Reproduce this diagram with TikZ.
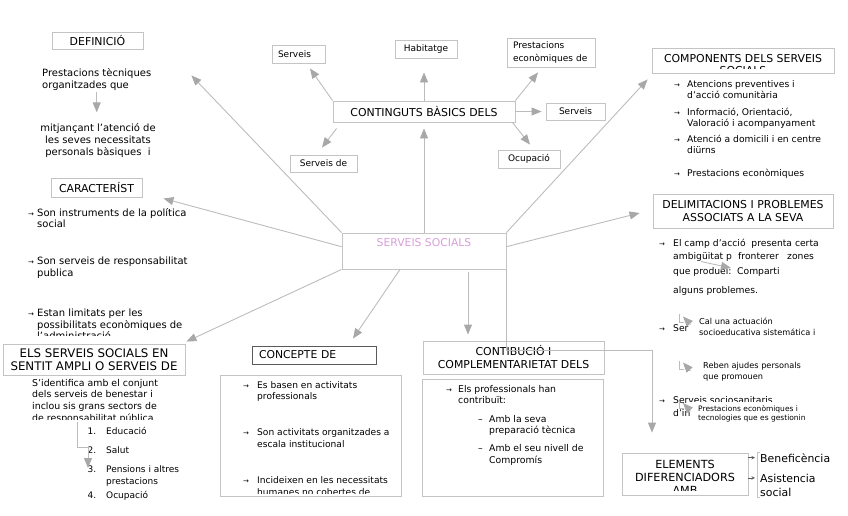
\documentclass[tikz,border=0pt]{standalone}
\usepackage{fontspec}
\setmainfont{DejaVu Sans}
\usetikzlibrary{arrows.meta}

\definecolor{framegray}{RGB}{196,196,196}
\definecolor{linkgray}{RGB}{188,188,188}
\definecolor{tipgray}{RGB}{168,168,168}
\definecolor{framedark}{RGB}{90,90,90}
\definecolor{socialpink}{RGB}{216,158,216}

\newcommand{\setfs}[2]{\fontsize{#1}{#2}\selectfont}

\begin{document}
\begin{tikzpicture}[x=1pt, y=-1pt, >=stealth,
    box/.style={draw=framegray, line width=0.9pt, inner sep=0pt, align=center},
    title/.style={font=\setfs{10.9}{13}},
    small/.style={font=\setfs{9}{12.5}},
    body/.style={anchor=base west, inner sep=0pt, align=left, font=\setfs{9.3}{11.5}},
    bul/.style={anchor=base west, inner sep=0pt, font=\setfs{7}{8}},
    conn/.style={draw=linkgray, line width=0.9pt, -{Triangle[length=10pt, width=8pt, color=tipgray]}},
    note/.style={body, fill=white, inner ysep=2pt, font=\setfs{8.2}{11}}
    ]
    \useasboundingbox (0,0) rectangle (848,515);

    % centre
    \node[box, minimum width=164pt, minimum height=36pt] (soc) at (424,251) {};
    \node[inner sep=0pt, font=\setfs{10.8}{13}, text=socialpink] (soctitle) at (424,243) {SERVEIS SOCIALS};

    % definicio
    \node[box, title, minimum width=91pt, minimum height=17pt] (def) at (97.5,40.5) {DEFINICIÓ};
    \node[body, font=\setfs{10}{12}] (deftext) at (42,88.5) {Prestacions tècniques\\organitzades que};
    \node[body, anchor=base, align=center, font=\setfs{10}{12}] (defmore) at (98,155.5) {mitjançant l'atenció de\\les seves necessitats\\personals bàsiques\ \ i};
    \draw[conn, shorten <=1pt, shorten >=11pt] (deftext.south) -- (deftext.south |- defmore.north);

    % caracteristiques
    \node[box, title, minimum width=91pt, minimum height=19pt] (car) at (96.5,187.5) {CARACTERÍST};
    \node[bul] (carb1) at (28,216) {→};
    \node[body, font=\setfs{10}{11.5}] (car1) at (37,227.5) {Son instruments de la política\\social};
    \node[bul] (carb2) at (28,264.3) {→};
    \node[body, font=\setfs{10}{11.7}] (car2) at (37,276) {Son serveis de responsabilitat\\publica};
    \node[bul] (carb3) at (28,316.7) {→};
    \begin{scope}
        \clip (0,300) rectangle (220,335.8);
        \node[body, font=\setfs{10}{11.6}] (car3) at (37,339.9) {Estan limitats per les\\possibilitats econòmiques de\\l'administració};
    \end{scope}

    % sentit ampli
    \node[box, font=\setfs{11.8}{13}, minimum width=182pt, minimum height=31pt] (sentit) at (94,359.5) {ELS SERVEIS SOCIALS EN\\SENTIT AMPLI O SERVEIS DE};
    \begin{scope}
        \clip (0,376) rectangle (218,419.5);
        \node[body, font=\setfs{9.4}{11.8}] (sentittext) at (32,421.4) {S'identifica amb el conjunt\\dels serveis de benestar i\\inclou sis grans sectors de\\de responsabilitat pública};
    \end{scope}
    \node[body, anchor=base east, font=\setfs{9}{12}] (sect1n) at (96.5,434.5) {1.};
    \node[body, font=\setfs{9}{12}] (sect1) at (106,434.5) {Educació};
    \node[body, anchor=base east, font=\setfs{9}{12}] (sect2n) at (96.5,453.5) {2.};
    \node[body, font=\setfs{9}{12}] (sect2) at (106,453.5) {Salut};
    \node[body, anchor=base east, font=\setfs{9}{12}] (sect3n) at (96.5,472) {3.};
    \node[body, font=\setfs{9}{12}] (sect3) at (106,484) {Pensions i altres\\prestacions};
    \node[body, anchor=base east, font=\setfs{9}{12}] (sect4n) at (96.5,498.5) {4.};
    \node[body, font=\setfs{9}{12}] (sect4) at (106,498.5) {Ocupació};
    \coordinate (sectfrom) at (77,422);
    \coordinate (sectto) at (88,468);
    \draw[conn] (sectfrom) |- ++(11,25) -- (sectto);

    % concepte
    \node[box, draw=framedark, font=\setfs{10.8}{13}, minimum height=18pt, text width=110pt, inner xsep=7pt, align=left] (concept) at (314,355) {CONCEPTE DE};
    \node[box, minimum width=181pt, minimum height=121pt] (conceptlist) at (310.5,435.5) {};
    \node[bul] (conb1) at (243,388) {→};
    \node[body, font=\setfs{9.1}{11.5}] (con1) at (257,399.5) {Es basen en activitats\\professionals};
    \node[bul] (conb2) at (243,435) {→};
    \node[body, font=\setfs{9.1}{12}] (con2) at (257,447) {Son activitats organitzades a\\escala institucional};
    \node[bul] (conb3) at (243,483.5) {→};
    \begin{scope}
        \clip (220,470) rectangle (400,493);
        \node[body, font=\setfs{9.1}{11.5}] (con3) at (257,495) {Incideixen en les necessitats\\humanes no cobertes de};
    \end{scope}

    % contribucio
    \node[box, title, minimum width=181pt, minimum height=33pt] (contrib) at (513.5,357.5) {CONTIBUCIÓ I\\COMPLEMENTARIETAT DELS};
    \node[box, minimum width=181pt, minimum height=117pt] (contriblist) at (512.5,437.5) {};
    \node[bul] (ctrb1) at (446,392) {→};
    \node[body] (ctr1) at (458,403.5) {Els professionals han\\contribuït:};
    \node[body] (ctrd1) at (478,422) {–};
    \node[body] (ctr2) at (489,433.5) {Amb la seva\\preparació tècnica};
    \node[body] (ctrd2) at (478,451) {–};
    \node[body, font=\setfs{9.3}{12}] (ctr3) at (489,463) {Amb el seu nivell de\\Compromís};

    % elements diferenciadors
    \node[box, minimum width=126pt, minimum height=42pt] (elem) at (685,474) {};
    \begin{scope}
        \clip (elem.north west) rectangle ([yshift=5pt]elem.south east);
        \node[inner sep=0pt, anchor=base, align=center, font=\setfs{11.2}{13}] (elemtitle) at (685,494) {ELEMENTS\\DIFERENCIADORS\\AMB};
    \end{scope}
    \node[body, font=\setfs{10.9}{14}] (benef) at (760,462) {Beneficència};
    \node[body, font=\setfs{10.9}{14}] (asist) at (760,482) {Asistencia};
    \node[body, font=\setfs{10.9}{14}] (asistb) at (760,496.5) {social};
    \draw[->, framedark, line width=0.6pt] (elem.east |- benef.west) -- ([xshift=-5pt]benef.west);
    \draw[->, framedark, line width=0.6pt] (elem.east |- asist.west) -- ([xshift=-5pt]asist.west);
    \draw[framegray, line width=0.8pt] (760,452) -- (757,452) -- (757,497) -- (760,497);

    % components
    \node[box, minimum width=182pt, minimum height=25pt] (comp) at (743,60.5) {};
    \begin{scope}
        \clip (comp.north west) rectangle ([yshift=4.5pt]comp.south east);
        \node[inner sep=0pt, anchor=base, align=center, font=\setfs{10.9}{12}] (comptitle) at (743,74) {COMPONENTS DELS SERVEIS\\SOCIALS};
    \end{scope}
    \node[bul] (compb1) at (674,87.3) {→};
    \node[body, font=\setfs{9.2}{11}] (comp1) at (687,98.3) {Atencions preventives i\\d'acció comunitària};
    \node[bul] (compb2) at (674,115) {→};
    \node[body, font=\setfs{9.2}{11}] (comp2) at (687,126) {Informació, Orientació,\\Valoració i acompanyament};
    \node[bul] (compb3) at (674,142.7) {→};
    \node[body, font=\setfs{9.2}{11}] (comp3) at (687,153.7) {Atenció a domicili i en centre\\diürns};
    \node[bul] (compb4) at (674,176) {→};
    \node[body, font=\setfs{9.2}{11}] (comp4) at (687,176) {Prestacions econòmiques};

    % delimitacions
    \node[box, title, minimum width=180pt, minimum height=34pt] (delim) at (743,211) {DELIMITACIONS I PROBLEMES\\ASSOCIATS A LA SEVA};
    \node[bul] (delimb1) at (659,246.5) {→};
    \node[body, font=\setfs{9.2}{11}] (delim1) at (673,246.5) {El camp d'acció~ presenta certa};
    \node[body, font=\setfs{9.2}{11}] (delim2a) at (673,259) {ambigüitat p};
    \node[body, font=\setfs{9.2}{11}] (delim2b) at (738,259) {fronterer};
    \node[body, font=\setfs{9.2}{11}] (delim2c) at (787,259) {zones};
    \node[body, font=\setfs{9.2}{11}] (delim3a) at (673,274) {que produei:};
    \node[body, font=\setfs{9.2}{11}] (delim3b) at (737,274) {Comparti};
    \node[body, font=\setfs{9.2}{11}] (delim4) at (673,293) {alguns problemes.};
    \node[bul] (delimb2) at (659,331) {→};
    \node[body, font=\setfs{9.2}{11}] (delim5) at (673,331) {Ser};
    \node[note, inner xsep=0pt] (calnote) at (699,335) {Cal una actuación\\socioeducativa sistemática i};
    \node[note] (rebnote) at (703,379) {Reben ajudes personals\\que promouen};
    \node[bul] (delimb3) at (659,403.5) {→};
    \node[body, font=\setfs{9.2}{11}] (delim6) at (673,403.5) {Serveis sociosanitaris};
    \node[body, font=\setfs{9.2}{11}] (delim7) at (673,416) {d'in};
    \node[note, inner xsep=8pt, inner ysep=3.5pt, font=\setfs{7.5}{9.5}] (prestnote) at (690,420.5) {Prestacions econòmiques i\\tecnologies que es gestionin};

    \coordinate (ambfrom) at (701,261.5);
    \coordinate (ambto) at (731,268);
    \draw[conn] (ambfrom) -- (ambto);
    \draw[linkgray, line width=0.9pt] (679,314) |- (684,322);
    \coordinate (calfrom) at (690.5,324.5);
    \coordinate (calto) at (683,316.5);
    \draw[conn] (calfrom) -- (calto);
    \draw[linkgray, line width=0.9pt] (679,360.5) |- (684,369);
    \coordinate (rebfrom) at (690.5,371);
    \coordinate (rebto) at (683,362.5);
    \draw[conn] (rebfrom) -- (rebto);
    \draw[linkgray, line width=0.9pt] (679,401) |- (684,408);
    \coordinate (prfrom) at (690.5,411);
    \coordinate (prto) at (683,403);
    \draw[conn] (prfrom) -- (prto);

    % continguts basics
    \node[box, title, minimum width=182pt, minimum height=21pt] (cont) at (424,111.5) {CONTINGUTS BÀSICS DELS};
    \node[box, small, minimum height=18pt, text width=41pt, inner xsep=6pt, align=left] (servA) at (298.5,54) {Serveis};
    \node[box, small, minimum width=62pt, minimum height=18pt] (hab) at (426,49) {Habitatge};
    \node[box, small, minimum height=29pt, text width=76pt, inner xsep=6pt, align=left] (prest) at (551,52.5) {Prestacions\\econòmiques de};
    \node[box, small, minimum width=59pt, minimum height=17pt] (servB) at (575.5,111.5) {Serveis};
    \node[box, small, minimum width=62pt, minimum height=18pt] (ocup) at (529,159) {Ocupació};
    \node[box, small, minimum width=67pt, minimum height=17pt] (servC) at (323.5,163.5) {Serveis de};

    \draw[conn] (cont.north west) -- ([xshift=11.5pt, yshift=-5pt]servA.south);
    \draw[conn] (cont.north) -- ([xshift=-2pt, yshift=-14pt]hab.south);
    \draw[conn] (cont.north east) -- ([xshift=-13pt, yshift=-5pt]prest.south);
    \draw[conn, shorten >=4pt] (cont.east) -- (servB.west);
    \draw[conn] ([xshift=-3pt]cont.south east) -- ([xshift=1pt, yshift=5pt]ocup.north);
    \draw[conn] ([xshift=4pt, yshift=-6pt]cont.south west) -- ([xshift=-1.5pt, yshift=7pt]servC.north);

    % from the centre
    \draw[conn] (soc.north west) -- ([xshift=48pt, yshift=-26pt]def.south east);
    \draw[conn] (soc.177) -- ([xshift=21pt, yshift=-1pt]car.south east);
    \draw[conn] (soc.south west) -- ([xshift=1pt, yshift=2pt]sentit.north east);
    \draw[conn] ([xshift=-24pt]soc.south) -- ([xshift=39pt, yshift=7pt]concept.north);
    \draw[conn] ([xshift=44pt, yshift=-3pt]soc.south) -- ([xshift=-45.5pt, yshift=6pt]contrib.north);
    \draw[conn] (soc.south east) -- ++(0,81) -| ([xshift=-33pt, yshift=20pt]elem.north);
    \draw[conn] (soc.north) -- ([yshift=-6pt]cont.south);
    \draw[conn] (soc.north east) -- ([xshift=-4pt, yshift=-6pt]comp.south west);
    \draw[conn] (soc.3) -- ([xshift=-13pt, yshift=-2pt]delim.west);

\end{tikzpicture}
\end{document}
